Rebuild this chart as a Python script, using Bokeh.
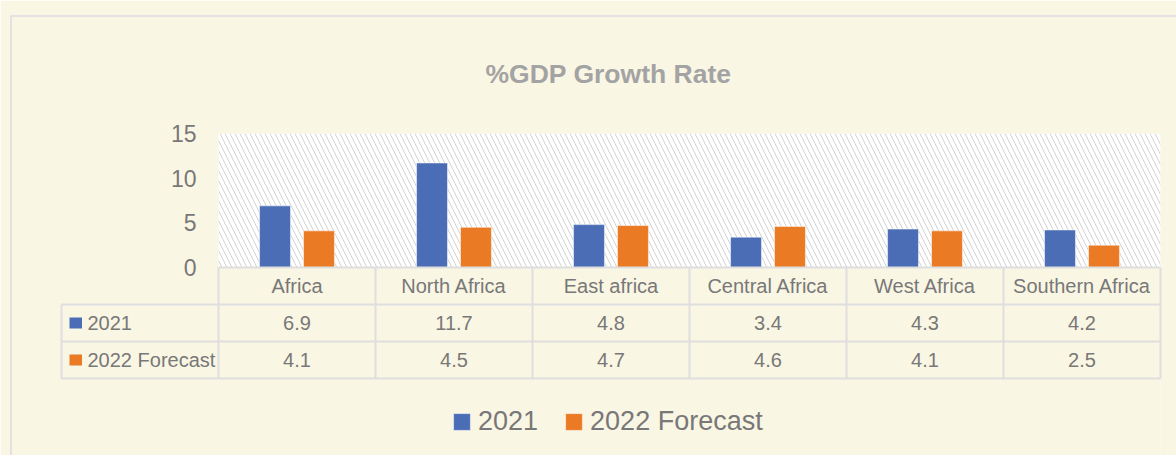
from bokeh.plotting import figure
from bokeh.models import (FactorRange, Range1d, FixedTicker, Legend, LegendItem,
                          ColumnDataSource)
from bokeh.transform import dodge
from bokeh.core.properties import value
from bokeh.embed import file_html
from bokeh.resources import INLINE

# ---------------- data ----------------
categories = ["Africa", "North Africa", "East africa", "Central Africa", "West Africa", "Southern Africa"]
series_names = ["2021", "2022 Forecast"]
values_2021 = [6.9, 11.7, 4.8, 3.4, 4.3, 4.2]
values_2022 = [4.1, 4.5, 4.7, 4.6, 4.1, 2.5]
y_ticks = [0, 5, 10, 15]
title_text = "%GDP Growth Rate"

# ---------------- style ----------------
FONT = "Liberation Sans"
BG = "#FAF6E4"
GRID = "#DEDEDE"
TXT = "#787878"
TITLE_C = "#A3A3A3"
BLUE = "#4A6DB6"
ORANGE = "#EB7A24"
FS = "20px"

W, H = 1176, 455
FRAME_L, FRAME_R, FRAME_T = 218, 1160, 133
PX_PER_UNIT = 134 / 15.0             # pixels per value unit
CAT_PX = 157.0                       # pixels per category
ROW_H = 37 / PX_PER_UNIT             # table row height in value units
Y_MIN = -(H - 267) / PX_PER_UNIT     # frame reaches the bottom of the canvas

p = figure(width=W, height=H, output_backend="svg", toolbar_location=None,
           x_range=FactorRange(factors=categories, range_padding=0, factor_padding=0),
           y_range=Range1d(Y_MIN, 15),
           min_border_left=FRAME_L, min_border_right=W - FRAME_R,
           min_border_top=FRAME_T, min_border_bottom=0)
p.background_fill_color = BG
p.border_fill_color = BG
p.outline_line_color = None
p.xgrid.visible = False
p.ygrid.visible = False
p.xaxis.visible = False

n = len(categories)

# hatched plot area
p.quad(left=[0], right=[n], bottom=[0], top=[max(y_ticks)], fill_color="white",
       line_color=None, hatch_pattern="\\", hatch_color="#D2D2D2", hatch_scale=10,
       hatch_weight=1, level="underlay")

src = ColumnDataSource(dict(cat=categories, v1=values_2021, v2=values_2022))
r1 = p.vbar(x=dodge("cat", -0.14, range=p.x_range), top="v1", width=0.197, source=src,
            fill_color=BLUE, line_color="white", line_alpha=0.5, line_width=1)
r2 = p.vbar(x=dodge("cat", 0.14, range=p.x_range), top="v2", width=0.197, source=src,
            fill_color=ORANGE, line_color="white", line_alpha=0.5, line_width=1)

# value axis
p.yaxis.ticker = FixedTicker(ticks=y_ticks)
p.yaxis.axis_line_color = None
p.yaxis.major_tick_line_color = None
p.yaxis.minor_tick_line_color = None
p.yaxis.major_tick_out = 0
p.yaxis.major_tick_in = 0
p.yaxis.major_label_standoff = 22
p.yaxis.major_label_text_font = FONT
p.yaxis.major_label_text_font_size = "23px"
p.yaxis.major_label_text_color = TXT

# title (drawn as text so it can sit where the reference has it)
title_x = (608 - FRAME_L) / CAT_PX
title_y = 15 + (FRAME_T - 73) / PX_PER_UNIT
p.text(x=[title_x], y=[title_y], text=[title_text], text_font=value(FONT),
       text_font_size="26.5px", text_font_style="bold", text_color=TITLE_C,
       text_align="center", text_baseline="middle", level="annotation")

# ---------------- data table ----------------
row_bottoms = [-ROW_H, -2 * ROW_H, -3 * ROW_H]
hx0 = [0, -1, -1, -1]
hx1 = [n, n, n, n]
hy = [0] + row_bottoms
p.segment(x0=hx0, y0=hy, x1=hx1, y1=hy, line_color=GRID, line_width=2, level="annotation")
vx = list(range(0, n + 1)) + [-1]
vy0 = [0] * (n + 1) + [-ROW_H]
vy1 = [-3 * ROW_H] * (n + 2)
p.segment(x0=vx, y0=vy0, x1=vx, y1=vy1, line_color=GRID, line_width=2, level="annotation")

# header row: category names
p.text(x=categories, y=[-0.5 * ROW_H] * n, text=categories,
       text_font=value(FONT), text_font_size=FS, text_color=TXT,
       text_align="center", text_baseline="middle", level="annotation")

key_x0 = (69 - FRAME_L) / CAT_PX
key_x1 = (81.5 - FRAME_L) / CAT_PX
label_x = (87 - FRAME_L) / CAT_PX
for k, (vals, col) in enumerate([(values_2021, BLUE), (values_2022, ORANGE)]):
    yc = -(k + 1.5) * ROW_H
    p.text(x=categories, y=[yc] * n, text=[f"{v:.1f}" for v in vals],
           text_font=value(FONT), text_font_size=FS, text_color=TXT,
           text_align="center", text_baseline="middle", level="annotation")
    # legend key square of the table row
    p.segment(x0=[key_x0], y0=[yc], x1=[key_x1], y1=[yc], line_color=col,
              line_width=11, line_cap="butt", level="annotation")
    p.text(x=[label_x], y=[yc], text=[series_names[k]],
           text_font=value(FONT), text_font_size=FS, text_color=TXT,
           text_align="left", text_baseline="middle", level="annotation")

# outer chart border
p.line(x=[-1.3217, -1.3217, 7.5], y=[-40, 28.15, 28.15], line_color="#E2E2E2",
       line_width=2, level="annotation")

# ---------------- legend ----------------
legend = Legend(items=[LegendItem(label=series_names[0], renderers=[r1]),
                       LegendItem(label=series_names[1], renderers=[r2])],
                orientation="horizontal", location=(233, 18),
                glyph_width=21, glyph_height=21, label_standoff=6, spacing=25,
                padding=0, margin=0, border_line_color=None, background_fill_alpha=0,
                label_text_font=FONT, label_text_font_size="27px", label_text_color=TXT)
p.add_layout(legend)

open("out.html", "w").write(file_html(p, INLINE))
